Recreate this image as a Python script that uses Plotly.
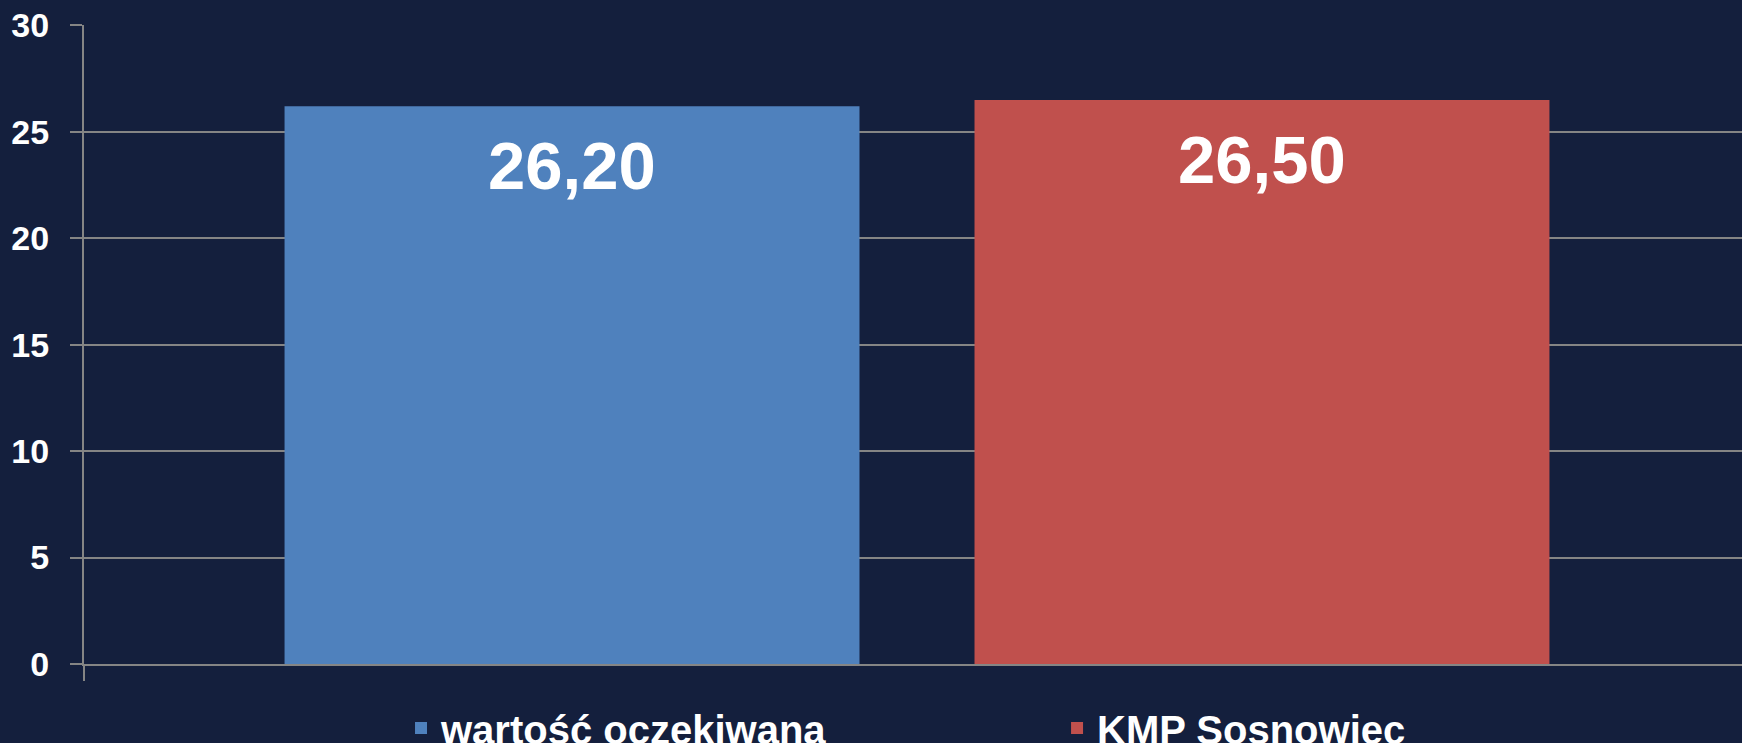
import plotly.graph_objects as go

# Series shown as two side-by-side bars
series_names = ["wartość oczekiwana", "KMP Sosnowiec"]
series_values = [26.20, 26.50]
series_colors = ["#4F81BD", "#C0504D"]

y_ticks = [0, 5, 10, 15, 20, 25, 30]

BG = "#141F3D"
GRID = "#858585"
FONT = "Liberation Sans"

BARGAP = 0.1717
BARGROUPGAP = 0.1667


def fmt_pl(v):
    return f"{v:.2f}".replace(".", ",")


fig = go.Figure()
legend_ids = ["legend", "legend2"]
for name, val, col, lg in zip(series_names, series_values, series_colors, legend_ids):
    fig.add_trace(go.Bar(
        x=[0], y=[val], name=name,
        marker=dict(color=col, line=dict(width=0)),
        legend=lg, hoverinfo="skip",
    ))

# value labels near the top of each bar
group_w = 1 - BARGAP
n = len(series_values)
annotations = []
for i, val in enumerate(series_values):
    xc = -group_w / 2 + group_w / n * (i + 0.5)
    annotations.append(dict(
        x=xc, y=val, xref="x", yref="y",
        text=f"<b>{fmt_pl(val)}</b>", showarrow=False,
        yanchor="top", xanchor="center", yshift=-20,
        font=dict(family=FONT, size=67, color="white"),
    ))

legend_style = dict(
    xref="container", yref="container",
    xanchor="left", yanchor="top", orientation="h",
    font=dict(family=FONT, size=40, color="white", weight="bold"),
    bgcolor="rgba(0,0,0,0)",
)

fig.update_layout(
    width=1742, height=743,
    paper_bgcolor=BG, plot_bgcolor=BG,
    barmode="group", bargap=BARGAP, bargroupgap=BARGROUPGAP,
    margin=dict(l=84, r=0, t=25, b=79, pad=0),
    font=dict(family=FONT, color="white"),
    annotations=annotations,
    showlegend=True,
    legend=dict(x=0.2302, y=0.064, **legend_style),
    legend2=dict(x=0.6068, y=0.064, visible=True, **legend_style),
    xaxis=dict(
        type="linear", range=[-0.5, 0.4952],
        showgrid=False, zeroline=False,
        showline=True, linecolor=GRID, linewidth=2,
        tickvals=[-0.5], ticks="outside", ticklen=15, tickwidth=2, tickcolor=GRID,
        showticklabels=False,
    ),
    yaxis=dict(
        range=[0, 30.02], tickvals=y_ticks,
        showgrid=True, gridcolor=GRID, gridwidth=2,
        zeroline=False,
        showline=True, linecolor=GRID, linewidth=2,
        ticks="outside", ticklen=12, tickwidth=2, tickcolor=GRID,
        ticklabelstandoff=14,
        tickfont=dict(family=FONT, size=34, color="white", weight="bold"),
    ),
)

fig.write_html("out.html")
